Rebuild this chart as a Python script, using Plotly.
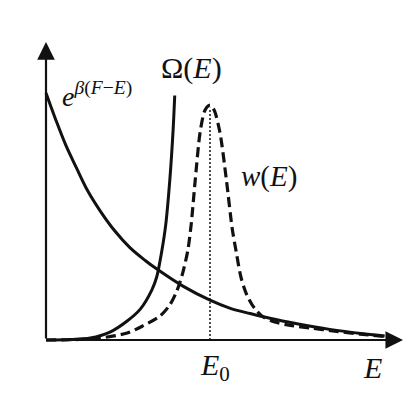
import plotly.graph_objects as go

# Boltzmann factor e^{β(F-E)}: decreasing curve
boltz_E = [0, 0.12, 0.24, 0.37, 0.51, 0.66, 0.84, 1.02, 1.21, 1.37, 1.67, 2.0, 2.24, 2.49, 2.73, 3.06, 3.46, 3.87, 4.13]
boltz_val = [1.0, 0.891, 0.790, 0.698, 0.603, 0.523, 0.441, 0.375, 0.322, 0.283, 0.218, 0.161,
             0.129, 0.107, 0.088, 0.066, 0.043, 0.025, 0.016]

# Density of states Ω(E): steeply rising curve
omega_E = [0, 0.29, 0.54, 0.78, 0.99, 1.15, 1.29, 1.35, 1.41, 1.46, 1.51, 1.55, 1.57]
omega_val = [0, 0.002, 0.008, 0.032, 0.077, 0.125, 0.202, 0.255, 0.356, 0.466, 0.648, 0.85, 0.99]

# Energy distribution w(E): sharp peak at E0
w_E = [0, 0.41, 0.66, 0.99, 1.18, 1.39, 1.51, 1.60, 1.67, 1.73, 1.77, 1.82, 1.88, 1.94, 2.0,
       2.05, 2.12, 2.20, 2.27, 2.32, 2.38, 2.45, 2.54, 2.65, 2.79, 2.98, 3.22, 3.52, 3.83, 4.13]
w_val = [0, 0.002, 0.008, 0.028, 0.057, 0.097, 0.142, 0.202, 0.275, 0.364, 0.466, 0.648, 0.842, 0.931, 0.951,
         0.931, 0.842, 0.648, 0.453, 0.356, 0.251, 0.182, 0.130, 0.093, 0.073, 0.059, 0.049, 0.036, 0.024, 0.014]

E0 = 2.0
E0_height = 0.94
x_axis_end = 4.354
y_axis_end = 1.206

INK = "#111111"
FONT = "Liberation Serif, Times New Roman, Times, serif"

fig = go.Figure()

fig.add_trace(go.Scatter(x=boltz_E, y=boltz_val, mode="lines",
                         line=dict(color=INK, width=3, shape="spline", smoothing=1.0)))
fig.add_trace(go.Scatter(x=omega_E, y=omega_val, mode="lines",
                         line=dict(color=INK, width=3, shape="spline", smoothing=0.8)))
fig.add_trace(go.Scatter(x=w_E, y=w_val, mode="lines",
                         line=dict(color=INK, width=3.2, dash="10px,5px", shape="spline", smoothing=0.8)))
fig.add_trace(go.Scatter(x=[E0, E0], y=[0, E0_height], mode="lines",
                         line=dict(color=INK, width=1.5, dash="2px,2px")))

# axes with arrowheads
for tip in [(x_axis_end, 0), (0, y_axis_end)]:
    fig.add_annotation(x=tip[0], y=tip[1], ax=0, ay=0, xref="x", yref="y", axref="x", ayref="y",
                       text="", showarrow=True, arrowhead=2, arrowsize=1.6, arrowwidth=2.2,
                       arrowcolor=INK, standoff=0, startstandoff=0)

labels = [
    (1.77, 1.10, "Ω(<i>E</i>)", "center", 30),
    (0.17, 0.995, "<i>e</i><sup><i>β</i>(<i>F</i>−<i>E</i>)</sup>", "left", 28),
    (2.72, 0.66, "<i>w</i>(<i>E</i>)", "center", 29),
    (2.06, -0.11, "<i>E</i><sub>0</sub>", "center", 30),
    (3.98, -0.11, "<i>E</i>", "center", 30),
]
for x, y, t, anchor, size in labels:
    fig.add_annotation(x=x, y=y, xref="x", yref="y", text=t, showarrow=False,
                       xanchor=anchor, yanchor="middle",
                       font=dict(family=FONT, size=size, color=INK))

fig.update_layout(
    width=420, height=410,
    margin=dict(l=0, r=0, t=0, b=0),
    paper_bgcolor="white", plot_bgcolor="white",
    showlegend=False,
    font=dict(family=FONT),
    xaxis=dict(range=[-0.561, 4.561], visible=False, fixedrange=True),
    yaxis=dict(range=[-0.2834, 1.3765], visible=False, fixedrange=True),
)

fig.write_html("out.html", config={"displayModeBar": False})
